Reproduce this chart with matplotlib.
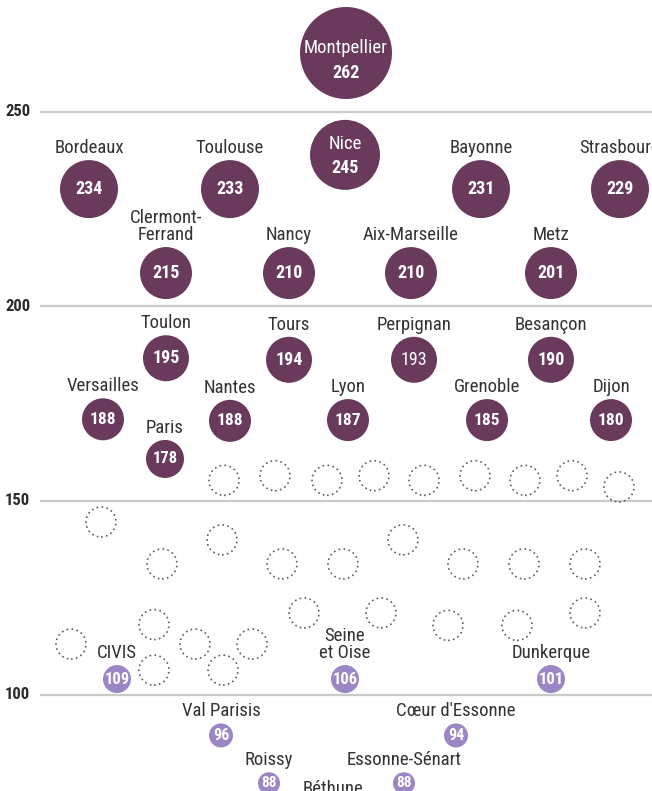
import matplotlib
matplotlib.use("Agg")
import matplotlib.pyplot as plt
import matplotlib.font_manager as fm
from matplotlib.patches import Ellipse

# pick a narrow face if one is installed
fonts = fm.fontManager.ttflist
family, stretch, shrink = 'DejaVu Sans', 'normal', 0.8
for cand in ['Roboto Condensed', 'Liberation Sans Narrow', 'Open Sans Condensed',
             'Noto Sans Condensed', 'Noto Sans SemiCondensed', 'DejaVu Sans Condensed']:
    if any(f.name == cand for f in fonts):
        family, shrink = cand, 1.0
        break
else:
    cond = [f for f in fonts if f.stretch in ('condensed', 'semi-condensed', 'extra-condensed')]
    if cond:
        family, stretch, shrink = cond[0].name, cond[0].stretch, 1.0
plt.rcParams['font.family'] = [family, 'DejaVu Sans']
plt.rcParams['font.stretch'] = stretch

# data: name, value
names = ['Montpellier', 'Nice', 'Bordeaux', 'Toulouse', 'Bayonne', 'Strasbourg',
         'Clermont-\nFerrand', 'Nancy', 'Aix-Marseille', 'Metz',
         'Toulon', 'Tours', 'Perpignan', 'Besançon',
         'Versailles', 'Nantes', 'Lyon', 'Grenoble', 'Dijon', 'Paris',
         'CIVIS', 'Seine\net Oise', 'Dunkerque',
         'Val Parisis', "Cœur d'Essonne", 'Roissy', 'Essonne-Sénart']
values = [262, 245, 234, 233, 231, 229,
          215, 210, 210, 201,
          195, 194, 193, 190,
          188, 188, 187, 185, 180, 178,
          109, 106, 101,
          96, 94, 88, 88]
group = ['top'] * 20 + ['low'] * 7

# layout (x in pixel columns, y in chart units) and bubble radius in px
xpos = [346, 345, 89, 230, 481, 620,
        166, 289, 411, 551,
        166, 289, 414, 551,
        103, 230, 348, 487, 611, 165,
        117, 345, 551,
        221, 456, 269, 404]
ypos = [265.1, 238.9, 230.1, 230.1, 230.1, 230.1,
        208.5, 208.5, 208.5, 208.5,
        186.6, 186.2, 186.2, 186.2,
        170.9, 170.5, 170.7, 170.7, 170.7, 160.7,
        104.1, 104.1, 104.1,
        89.6, 89.6, 77.3, 77.3]
radius = [46, 35, 29, 29, 29, 29,
          26, 26, 26, 26,
          23, 23, 23, 23,
          21, 21, 21, 21, 21, 19,
          14, 14, 14,
          12, 12, 11, 11]
# names written inside the bubble: (label offset, number offset) in px from centre
inside = {'Montpellier': (5, -20), 'Nice': (11, -13)}

# anonymous placeholder bubbles
dot_x = [224, 275, 327, 374, 424, 475, 525, 572, 619,
         101, 222, 162, 282, 343, 403, 463, 524, 585,
         304, 154, 71, 195, 252, 154, 223, 381, 448, 517, 585]
dot_y = [155.2, 156.4, 155.2, 156.4, 155.2, 156.4, 155.2, 156.4, 153.5,
         144.5, 139.9, 133.7, 133.7, 133.7, 139.9, 133.7, 133.7, 133.7,
         121.1, 118.1, 113.1, 113.1, 113.1, 106.4, 106.4, 121.1, 117.9, 117.9, 121.1]

gridlines = [250, 200, 150, 100]
extra_label = ('Béthune', 333, 75.9)

dark = '#6a3a5d'
light = '#9c87c5'
txt = '#333333'

W, H = 652, 791
ppu = 3.888  # pixels per chart unit
ytop = 250 + 111.7 / ppu
ybot = 100 - (H - 695.0) / ppu

fig = plt.figure(figsize=(W / 100, H / 100), dpi=100)
ax = fig.add_axes([0, 0, 1, 1])
ax.set_xlim(0, W)
ax.set_ylim(ybot, ytop)
ax.axis('off')

lab_fs = 13.5 * shrink

for g in gridlines:
    ax.plot([40, W], [g, g], color='#cbcbcb', lw=1.6, zorder=1, solid_capstyle='butt')
    ax.text(5, g, str(g), fontsize=12 * shrink, fontweight='bold', color='#2a2a2a',
            ha='left', va='center')

for x, y in zip(dot_x, dot_y):
    ax.add_patch(Ellipse((x, y), 30, 30 / ppu, facecolor='none', edgecolor='#5e5e5e',
                         lw=1.2, linestyle=(0, (1, 2.0)), zorder=2))

for n, v, g, x, y, r in zip(names, values, group, xpos, ypos, radius):
    col = dark if g == 'top' else light
    ax.add_patch(Ellipse((x, y), 2 * r, 2 * r / ppu, facecolor=col, edgecolor='none', zorder=3))
    if n in inside:
        lo, no = inside[n]
        ax.text(x, y + lo / ppu, n, fontsize=lab_fs, color='white', ha='center', va='center', zorder=4)
        ax.text(x, y + no / ppu, str(v), fontsize=13 * shrink, fontweight='bold', color='white',
                ha='center', va='center', zorder=4)
        continue
    if g == 'top':
        fs = 13 if r >= 23 else (12.5 if r >= 21 else 12)
    else:
        fs = 12 if r >= 14 else (11.5 if r >= 12 else 11)
    wt = 'normal' if n == 'Perpignan' else 'bold'
    ax.text(x, y, str(v), fontsize=fs * shrink, fontweight=wt, color='white',
            ha='center', va='center', zorder=4)
    ax.text(x, y + (r + 3) / ppu, n, fontsize=lab_fs, color=txt, ha='center', va='bottom',
            linespacing=0.95, zorder=4)

ax.text(extra_label[1], extra_label[2], extra_label[0], fontsize=lab_fs, color=txt,
        ha='center', va='center')

fig.savefig('out.png', dpi=100)
